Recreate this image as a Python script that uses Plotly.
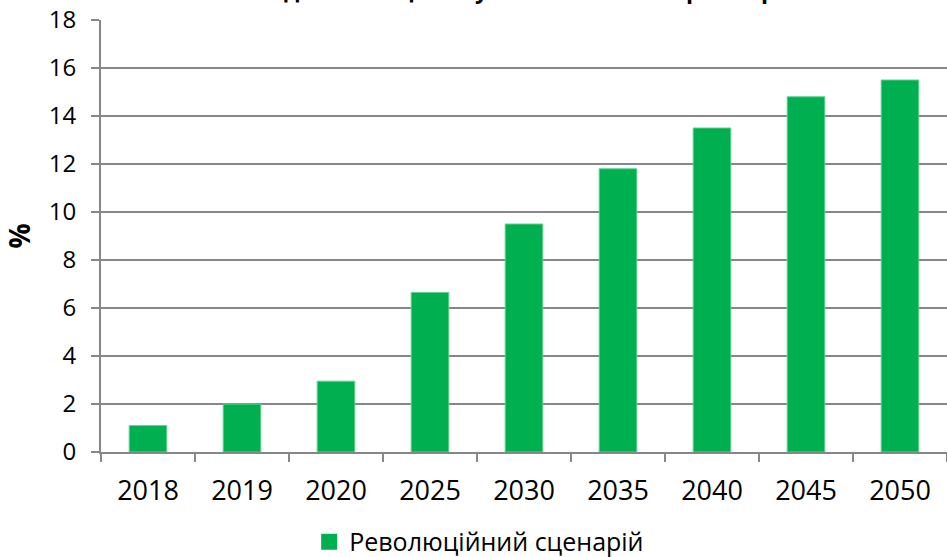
import plotly.graph_objects as go

# Share of hydrogen by year, revolutionary scenario
years = ["2018", "2019", "2020", "2025", "2030", "2035", "2040", "2045", "2050"]
share_pct = [1.1, 2.0, 2.95, 6.65, 9.5, 11.8, 13.5, 14.8, 15.5]
series_name = "Революційний сценарій"
chart_title = "Частка водню в кінцевому споживанні енергії України"
y_ticks = [0, 2, 4, 6, 8, 10, 12, 14, 16, 18]

GREEN = "#00B050"
GRID = "#878787"
FONT = "Open Sans"

fig = go.Figure()
fig.add_trace(go.Bar(
    x=years, y=share_pct, name=series_name,
    marker=dict(color=GREEN, line=dict(color="#5FD08F", width=1)),
    showlegend=False, legendgroup="s",
))
# legend entry with a larger square swatch
fig.add_trace(go.Scatter(
    x=[None], y=[None], mode="markers", name=series_name, legendgroup="s",
    marker=dict(symbol="square", size=16, color=GREEN),
))

fig.update_layout(
    width=947, height=557,
    margin=dict(l=101, r=0, t=20, b=105),
    paper_bgcolor="white", plot_bgcolor="white",
    bargap=0.6,
    font=dict(family=FONT, color="black"),
    title=dict(
        text=chart_title, xref="container", x=0.525, xanchor="center",
        yref="container", y=1.0, yanchor="bottom", pad=dict(b=2),
        font=dict(family=FONT, size=23, color="black", weight="bold"),
    ),
    showlegend=True,
    legend=dict(
        orientation="h", xref="container", x=0.506, xanchor="center",
        yref="container", y=0.027, yanchor="middle",
        font=dict(family=FONT, size=25), itemwidth=30,
        bgcolor="rgba(0,0,0,0)",
    ),
)

fig.update_xaxes(
    type="category", tickson="boundaries",
    showline=True, linecolor=GRID, linewidth=2,
    ticks="outside", ticklen=8, tickwidth=2, tickcolor=GRID,
    tickfont=dict(family=FONT, size=27), ticklabelstandoff=14,
    showgrid=False,
)
fig.update_yaxes(
    range=[0, 18], tickvals=y_ticks,
    showline=True, linecolor=GRID, linewidth=2,
    ticks="outside", ticklen=8, tickwidth=2, tickcolor=GRID,
    tickfont=dict(family=FONT, size=24), ticklabelstandoff=10,
    showgrid=True, gridcolor=GRID, gridwidth=2,
    zeroline=False,
    title=dict(text="<b>%</b>", font=dict(family=FONT, size=28), standoff=12),
)

fig.write_html("out.html")
